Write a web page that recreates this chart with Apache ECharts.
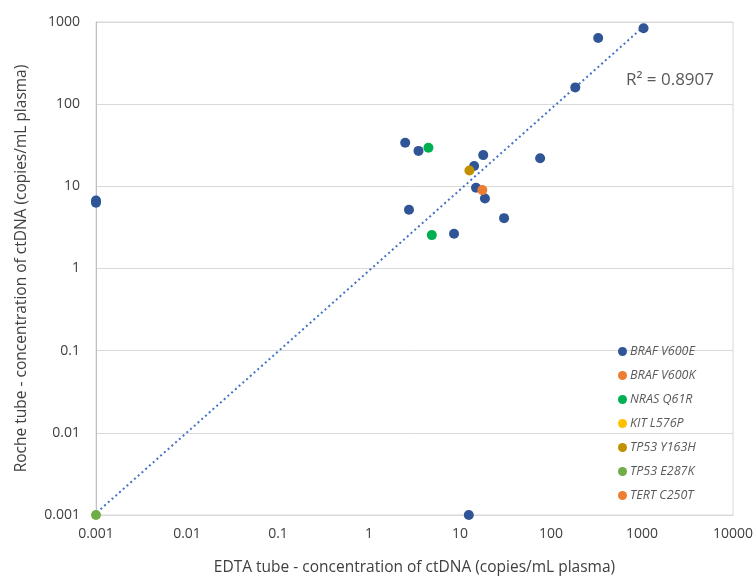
<!DOCTYPE html>
<html><head><meta charset="utf-8">
<script src="https://cdn.jsdelivr.net/npm/echarts@6/dist/echarts.min.js"></script>
<style>html,body{margin:0;padding:0;background:#fff}#c{width:756px;height:581px}</style>
</head><body><div id="c"></div>
<script>
// Series data [EDTA, Roche]
const brafV600E = [[0.001,6.3],[0.001,6.7],[2.5,34],[3.5,27],[18,24],[14.3,17.7],[76,22],[15,9.6],[18.8,7.1],[2.75,5.2],[30.5,4.1],[8.6,2.65],[330,640],[1040,840],[185,160],[12.5,0.001]];
const brafV600K = [[17.6,9.0]];
const nrasQ61R = [[4.5,29.5],[4.9,2.55]];
const kitL576P = [];
const tp53Y163H = [[12.7,15.6]];
const tp53E287K = [[0.001,0.001]];
const tertC250T = [];
const trendX = [0.00102, 1000];
const trendY = [0.00107, 845];
const r2Text = 'R² = 0.8907';
const xTickLabels = {'-3':'0.001','-2':'0.01','-1':'0.1','0':'1','1':'10','2':'100','3':'1000','4':'10000'};
const yTickLabels = {'-3':'0.001','-2':'0.01','-1':'0.1','0':'1','1':'10','2':'100','3':'1000'};

const names = ['BRAF V600E','BRAF V600K','NRAS Q61R','KIT L576P','TP53 Y163H','TP53 E287K','TERT C250T'];
const datas = [brafV600E,brafV600K,nrasQ61R,kitL576P,tp53Y163H,tp53E287K,tertC250T];
const colors = ['#2F5597','#ED7D31','#00B050','#FFC000','#BF9000','#70AD47','#ED7D31'];

function fmt(map){return v=>{const k=String(Math.round(Math.log10(v)));return map[k]||'';};}

const series = names.map((n,i)=>({name:n,type:'scatter',data:datas[i],symbolSize:10,itemStyle:{color:colors[i],opacity:1},z:3}));
series.unshift({name:'trend',type:'line',data:trendX.map((x,i)=>[x,trendY[i]]),showSymbol:false,symbol:'none',
  lineStyle:{color:'#4472C4',width:2,type:[2,3]},z:2,silent:true});

const chart = echarts.init(document.getElementById('c'));
chart.setOption({
  animation:false,
  color:colors,
  grid:{left:96,right:16,top:22,bottom:63,show:true,borderColor:'#d9d9d9',borderWidth:1},
  xAxis:{type:'log',logBase:10,min:0.001,max:10000,
    name:'EDTA tube - concentration of ctDNA (copies/mL plasma)',nameLocation:'middle',nameGap:45,
    nameTextStyle:{fontFamily:'Open Sans',fontSize:15.5,color:'#404040'},
    axisLine:{show:true,lineStyle:{color:'#d9d9d9'}},axisTick:{show:false},splitLine:{show:false},minorTick:{show:false},
    axisLabel:{formatter:fmt(xTickLabels),fontFamily:'Open Sans',fontSize:14,color:'#404040',margin:12}},
  yAxis:{type:'log',logBase:10,min:0.001,max:1000,
    name:'Roche tube - concentration of ctDNA (copies/mL plasma)',nameLocation:'middle',nameGap:66,
    nameTextStyle:{fontFamily:'Open Sans',fontSize:15.5,color:'#404040'},
    axisLine:{show:true,lineStyle:{color:'#bfbfbf'}},axisTick:{show:false},
    splitLine:{show:true,lineStyle:{color:'#d9d9d9'}},
    axisLabel:{formatter:fmt(yTickLabels),fontFamily:'Open Sans',fontSize:14,color:'#404040',margin:16}},
  legend:{data:names,orient:'vertical',left:613,top:340,itemGap:11,itemWidth:9,itemHeight:9,icon:'circle',
    textStyle:{fontFamily:'Open Sans',fontStyle:'italic',fontSize:12.5,color:'#595959',padding:[0,0,0,-2]}},
  graphic:[{type:'text',left:626,top:72,style:{text:r2Text,font:'17px "Open Sans"',fill:'#595959'}}],
  series:series
});
</script></body></html>
